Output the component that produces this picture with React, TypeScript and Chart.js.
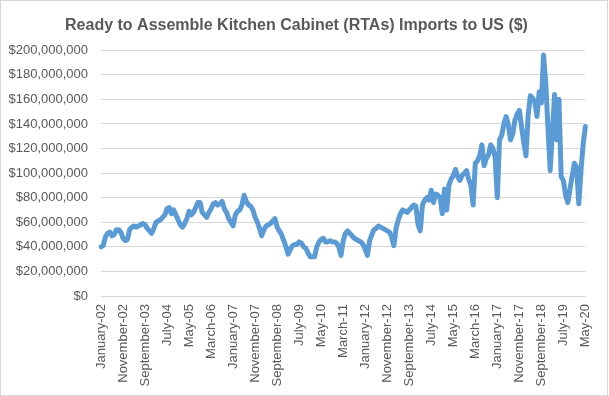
import React, { useEffect, useRef } from "react";
import { Chart, registerables } from "chart.js";

Chart.register(...registerables);

// Monthly imports, millions of US$
const v2002 = [40, 41, 48, 51, 52, 49, 50, 54, 54, 52, 47, 45];
const v2003 = [46, 54, 56, 57, 56, 57, 58, 59, 58, 55, 53, 51];
const v2004 = [55, 60, 61, 62, 64, 66, 71, 72, 67, 70, 66, 62];
const v2005 = [58, 56, 59, 63, 69, 66, 68, 72, 76, 76, 68, 66];
const v2006 = [64, 68, 71, 75, 76, 74, 75, 77, 71, 68, 63, 60];
const v2007 = [57, 66, 69, 70, 74, 82, 77, 74, 73, 70, 64, 60];
const v2008 = [55, 49, 54, 57, 58, 59, 61, 63, 56, 53, 50, 45];
const v2009 = [40, 34, 38, 41, 42, 42, 44, 43, 40, 39, 35, 32];
const v2010 = [32, 32, 40, 44, 46, 47, 44, 44, 45, 44, 44, 43];
const v2011 = [40, 33, 45, 51, 53, 51, 49, 47, 46, 45, 44, 42];
const v2012 = [38, 33, 45, 50, 54, 55, 57, 56, 55, 54, 53, 52];
const v2013 = [48, 41, 55, 62, 67, 70, 69, 68, 70, 72, 74, 73];
const v2014 = [58, 53, 74, 78, 80, 78, 86, 76, 83, 82, 80, 67];
const v2015 = [87, 70, 90, 95, 98, 103, 97, 94, 98, 100, 102, 95];
const v2016 = [90, 74, 108, 110, 114, 123, 106, 112, 115, 123, 120, 113];
const v2017 = [80, 127, 131, 140, 146, 139, 127, 132, 143, 148, 151, 138];
const v2018 = [125, 114, 147, 163, 161, 158, 146, 166, 157, 196, 173, 137];
const v2019 = [102, 133, 164, 127, 160, 97, 94, 82, 76, 87, 98, 108];
const v2020 = [105, 75, 102, 124, 138];

const yearValues = [v2002, v2003, v2004, v2005, v2006, v2007, v2008, v2009, v2010, v2011,
  v2012, v2013, v2014, v2015, v2016, v2017, v2018, v2019, v2020];
const firstYear = 2002;
const monthNames = ["January", "February", "March", "April", "May", "June", "July",
  "August", "September", "October", "November", "December"];
const labelEvery = 10;
const yTicks = { min: 0, max: 200000000, step: 20000000 };
const title = "Ready to Assemble Kitchen Cabinet (RTAs) Imports to US ($)";

const labels: string[] = [];
const values: number[] = [];
yearValues.forEach((arr, yi) => {
  arr.forEach((v, mi) => {
    labels.push(monthNames[mi] + "-" + String((firstYear + yi) % 100).padStart(2, "0"));
    values.push(v * 1000000);
  });
});

const FONT = "'Liberation Sans', Arial, sans-serif";
const GRAY = "#595959";

const borderPlugin = {
  id: "chartBorder",
  afterDraw(chart: any) {
    const ctx = chart.ctx;
    ctx.save();
    ctx.strokeStyle = "#D9D9D9";
    ctx.lineWidth = 1;
    ctx.strokeRect(0.5, 0.5, 607, 395);
    ctx.restore();
  },
};

export default function App() {
  const ref = useRef<HTMLCanvasElement | null>(null);
  useEffect(() => {
    if (!ref.current) return;
    const chart = new Chart(ref.current, {
      type: "line",
      data: {
        labels,
        datasets: [
          {
            data: values,
            borderColor: "#5B9BD5",
            backgroundColor: "#5B9BD5",
            borderWidth: 5,
            pointRadius: 0,
            tension: 0,
            borderJoinStyle: "round",
            borderCapStyle: "round",
          },
        ],
      },
      options: {
        responsive: false,
        animation: false,
        layout: { padding: { left: 0, right: 16, top: 0, bottom: 0 } },
        plugins: {
          legend: { display: false },
          tooltip: { enabled: false },
          title: {
            display: true,
            text: title,
            color: GRAY,
            font: { family: FONT, size: 16, weight: "bold", lineHeight: 1.2 },
            padding: { top: 16, bottom: 15 },
          },
        },
        scales: {
          x: {
            type: "category",
            offset: false,
            grid: { display: false, drawTicks: false },
            border: { display: false },
            ticks: {
              autoSkip: false,
              maxRotation: 90,
              minRotation: 90,
              padding: 8,
              color: GRAY,
              font: { family: FONT, size: 13 },
              callback: (_v: any, i: number) => (i % labelEvery === 0 ? labels[i] : ""),
            },
            afterFit: (s: any) => {
              s.height = 100;
            },
          },
          y: {
            min: yTicks.min,
            max: yTicks.max,
            grid: { color: "#D9D9D9", lineWidth: 1, drawTicks: false },
            border: { display: false },
            ticks: {
              stepSize: yTicks.step,
              padding: 13,
              color: GRAY,
              font: { family: FONT, size: 13 },
              callback: (v: any) => "$" + Number(v).toLocaleString("en-US"),
            },
            afterFit: (s: any) => {
              s.width = 101;
            },
          },
        },
      },
      plugins: [borderPlugin],
    } as any);
    return () => chart.destroy();
  }, []);
  return (
    <div style={{ position: "absolute", left: 0, top: 0, width: 609, height: 396, background: "#fff" }}>
      <canvas ref={ref} width={609} height={396} />
    </div>
  );
}
